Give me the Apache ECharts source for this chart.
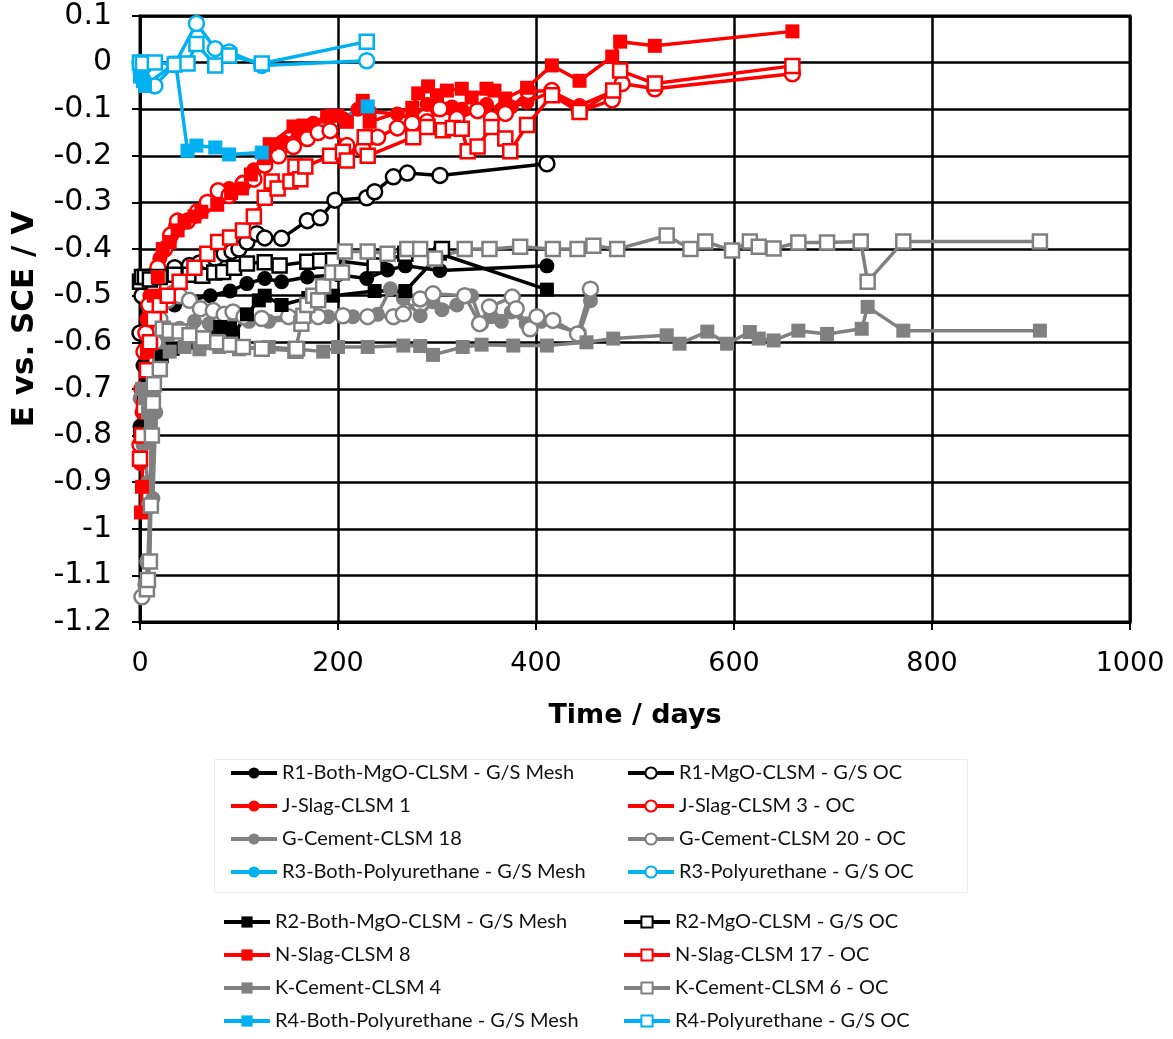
<!DOCTYPE html>
<html>
<head>
<meta charset="utf-8">
<script src="https://cdn.jsdelivr.net/npm/echarts@6/dist/echarts.min.js"></script>
<style>
html,body{margin:0;padding:0;background:#fff;}
#chart{width:1173px;height:1039px;}
</style>
</head>
<body>
<div id="chart"></div>
<script>
// ---- data: [time (days), E vs SCE (V)] ----
const xTicks = [0, 200, 400, 600, 800, 1000];
const yTicks = [0.1, 0, -0.1, -0.2, -0.3, -0.4, -0.5, -0.6, -0.7, -0.8, -0.9, -1, -1.1, -1.2];

const r1BothMesh = [[0,-0.78],[3,-0.65],[6,-0.58],[10,-0.55],[20,-0.53],[35,-0.52],[50,-0.51],[71,-0.5],[91,-0.49],[108,-0.474],[126,-0.463],[143,-0.47],[169,-0.46],[200,-0.455],[229,-0.463],[250,-0.445],[268,-0.436],[303,-0.446],[411,-0.436]];
const r1OC = [[0,-0.58],[2,-0.5],[5,-0.47],[10,-0.46],[20,-0.45],[35,-0.44],[50,-0.435],[60,-0.43],[68,-0.427],[76,-0.42],[85,-0.41],[93,-0.405],[100,-0.4],[108,-0.385],[118,-0.367],[126,-0.376],[143,-0.377],[169,-0.339],[182,-0.333],[197,-0.295],[229,-0.29],[237,-0.277],[256,-0.245],[270,-0.237],[303,-0.242],[411,-0.217]];
const jSlag1 = [[0,-0.86],[2,-0.75],[4,-0.62],[7,-0.55],[10,-0.5],[15,-0.46],[20,-0.42],[25,-0.4],[30,-0.38],[36,-0.35],[42,-0.345],[48,-0.34],[55,-0.33],[65,-0.31],[79,-0.275],[90,-0.27],[104,-0.256],[115,-0.23],[126,-0.21],[135,-0.19],[145,-0.17],[160,-0.15],[175,-0.13],[190,-0.115],[205,-0.12],[220,-0.1],[232,-0.105],[260,-0.11],[275,-0.12],[290,-0.09],[300,-0.1],[315,-0.095],[325,-0.1],[340,-0.1],[350,-0.09],[365,-0.1],[375,-0.095],[391,-0.085],[416,-0.062],[444,-0.092],[477,-0.062]];
const jSlag3OC = [[0,-0.82],[2,-0.7],[4,-0.62],[6,-0.58],[9,-0.52],[13,-0.48],[18,-0.44],[25,-0.4],[31,-0.37],[38,-0.34],[48,-0.34],[58,-0.32],[68,-0.3],[79,-0.275],[90,-0.285],[104,-0.26],[115,-0.25],[126,-0.22],[140,-0.2],[155,-0.18],[169,-0.163],[180,-0.15],[192,-0.146],[209,-0.178],[225,-0.185],[240,-0.16],[260,-0.14],[275,-0.13],[290,-0.127],[303,-0.099],[320,-0.12],[341,-0.103],[355,-0.12],[369,-0.109],[392,-0.062],[416,-0.06],[444,-0.105],[477,-0.08],[487,-0.045],[520,-0.056],[659,-0.024]];
const gCement18 = [[0,-0.72],[3,-0.82],[8,-0.9],[13,-0.935],[16,-0.75],[20,-0.65],[28,-0.6],[40,-0.57],[55,-0.555],[70,-0.56],[90,-0.55],[110,-0.555],[130,-0.555],[160,-0.55],[190,-0.545],[215,-0.545],[240,-0.54],[253,-0.485],[266,-0.506],[283,-0.543],[296,-0.513],[305,-0.53],[320,-0.52],[335,-0.5],[345,-0.56],[355,-0.545],[365,-0.555],[375,-0.535],[390,-0.56],[405,-0.555],[444,-0.58],[455,-0.511]];
const gCement20OC = [[2,-1.146],[6,-1.12],[8,-1.07],[10,-0.95],[12,-0.7],[15,-0.6],[20,-0.55],[28,-0.51],[33,-0.495],[40,-0.5],[50,-0.51],[61,-0.528],[74,-0.532],[85,-0.54],[94,-0.535],[105,-0.545],[123,-0.549],[150,-0.545],[180,-0.545],[205,-0.543],[230,-0.545],[256,-0.545],[266,-0.539],[283,-0.507],[296,-0.496],[328,-0.5],[343,-0.56],[353,-0.524],[376,-0.503],[380,-0.528],[394,-0.571],[401,-0.545],[417,-0.553],[442,-0.582],[455,-0.486]];
const r3BothMesh = [[0,-0.02],[3,-0.035],[6,-0.045]];
const r3OC = [[0,0],[3,-0.01],[15,-0.05],[35,-0.004],[57,0.084],[76,0.03],[90,0.023],[123,-0.006],[229,0.004]];
const r2BothMesh = [[0,-0.79],[4,-0.72],[8,-0.68],[14,-0.66],[22,-0.63],[33,-0.614],[50,-0.6],[65,-0.59],[81,-0.567],[91,-0.57],[94,-0.585],[108,-0.54],[120,-0.51],[126,-0.5],[143,-0.52],[170,-0.505],[195,-0.5],[237,-0.49],[268,-0.49],[303,-0.41],[411,-0.487]];
const r2OC = [[0,-0.47],[2,-0.46],[5,-0.46],[10,-0.465],[20,-0.46],[35,-0.455],[50,-0.455],[63,-0.457],[75,-0.45],[84,-0.449],[95,-0.44],[108,-0.431],[126,-0.428],[141,-0.435],[169,-0.427],[182,-0.425],[195,-0.424],[237,-0.435],[268,-0.41],[305,-0.4]];
const nSlag8 = [[1,-0.965],[2,-0.91],[4,-0.75],[7,-0.62],[10,-0.55],[14,-0.5],[18,-0.46],[23,-0.4],[30,-0.385],[38,-0.36],[45,-0.34],[55,-0.33],[62,-0.32],[78,-0.305],[92,-0.28],[103,-0.27],[112,-0.24],[126,-0.205],[131,-0.175],[155,-0.137],[165,-0.135],[189,-0.116],[199,-0.114],[209,-0.127],[225,-0.082],[232,-0.127],[275,-0.097],[281,-0.066],[291,-0.051],[300,-0.07],[310,-0.06],[325,-0.056],[335,-0.075],[350,-0.056],[358,-0.06],[369,-0.077],[391,-0.054],[416,-0.006],[444,-0.039],[477,0.013],[485,0.045],[520,0.036],[659,0.067]];
const nSlag17OC = [[0,-0.85],[2,-0.8],[4,-0.74],[7,-0.66],[10,-0.6],[14,-0.55],[20,-0.52],[28,-0.5],[40,-0.47],[55,-0.44],[68,-0.41],[79,-0.385],[91,-0.375],[104,-0.36],[115,-0.33],[126,-0.29],[133,-0.255],[139,-0.27],[152,-0.255],[157,-0.223],[162,-0.25],[167,-0.223],[192,-0.2],[205,-0.191],[209,-0.21],[227,-0.16],[230,-0.2],[276,-0.16],[290,-0.138],[306,-0.145],[316,-0.14],[325,-0.142],[331,-0.19],[341,-0.18],[355,-0.138],[369,-0.163],[374,-0.19],[391,-0.134],[416,-0.07],[444,-0.106],[478,-0.06],[485,-0.017],[520,-0.045],[659,-0.007]];
const kCement4 = [[2,-0.7],[5,-0.72],[8,-0.75],[11,-0.78],[14,-0.72],[20,-0.66],[30,-0.62],[45,-0.61],[60,-0.615],[80,-0.61],[100,-0.615],[130,-0.61],[160,-0.615],[185,-0.62],[200,-0.61],[230,-0.61],[266,-0.607],[283,-0.608],[296,-0.627],[326,-0.61],[345,-0.605],[377,-0.607],[411,-0.607],[451,-0.6],[478,-0.592],[532,-0.585],[545,-0.603],[573,-0.577],[593,-0.603],[616,-0.578],[625,-0.592],[640,-0.596],[665,-0.575],[694,-0.582],[729,-0.571],[735,-0.524],[771,-0.575],[909,-0.575]];
const kCement6OC = [[7,-1.13],[8,-1.11],[10,-1.07],[11,-0.95],[12,-0.8],[13,-0.73],[14,-0.69],[20,-0.657],[23,-0.571],[30,-0.575],[40,-0.577],[50,-0.585],[64,-0.592],[78,-0.6],[91,-0.605],[104,-0.61],[123,-0.614],[157,-0.618],[158,-0.614],[163,-0.56],[165,-0.543],[169,-0.52],[175,-0.5],[180,-0.51],[185,-0.48],[194,-0.45],[204,-0.45],[207,-0.405],[230,-0.405],[250,-0.41],[270,-0.4],[283,-0.4],[298,-0.42],[328,-0.4],[353,-0.4],[384,-0.395],[417,-0.4],[442,-0.4],[458,-0.393],[482,-0.4],[532,-0.371],[556,-0.4],[571,-0.384],[598,-0.403],[616,-0.384],[625,-0.395],[640,-0.399],[665,-0.386],[694,-0.386],[728,-0.384],[735,-0.47],[771,-0.384],[909,-0.384]];
const r4BothMesh = [[0,-0.03],[3,-0.04],[5,-0.05],[36,0.0],[48,-0.189],[57,-0.178],[76,-0.182],[90,-0.197],[123,-0.193],[230,-0.094]];
const r4OC = [[0,0],[3,-0.002],[15,0],[35,-0.004],[48,-0.002],[57,0.04],[76,-0.006],[90,0.015],[123,-0.002],[229,0.045]];

const BLACK = '#000000', RED = '#ff0000', GREY = '#808080', BLUE = '#00b0f0';

function mk(name, data, color, symbol, hollow) {
  return {
    name: name, type: 'line', data: data,
    symbol: symbol, symbolSize: symbol === 'rect' ? 14 : 15,
    showSymbol: true,
    lineStyle: { color: color, width: 3.5 },
    itemStyle: hollow ? { color: '#ffffff', borderColor: color, borderWidth: 2.5 } : { color: color, borderColor: color, borderWidth: 0 },
    emphasis: { disabled: true },
    animation: false
  };
}

const series = [
  mk('R1-Both-MgO-CLSM - G/S Mesh', r1BothMesh, BLACK, 'circle', false),
  mk('R1-MgO-CLSM - G/S OC', r1OC, BLACK, 'circle', true),
  mk('J-Slag-CLSM 1', jSlag1, RED, 'circle', false),
  mk('J-Slag-CLSM 3 - OC', jSlag3OC, RED, 'circle', true),
  mk('G-Cement-CLSM 18', gCement18, GREY, 'circle', false),
  mk('G-Cement-CLSM 20 - OC', gCement20OC, GREY, 'circle', true),
  mk('R3-Both-Polyurethane - G/S Mesh', r3BothMesh, BLUE, 'circle', false),
  mk('R3-Polyurethane - G/S OC', r3OC, BLUE, 'circle', true),
  mk('R2-Both-MgO-CLSM - G/S Mesh', r2BothMesh, BLACK, 'rect', false),
  mk('R2-MgO-CLSM - G/S OC', r2OC, BLACK, 'rect', true),
  mk('N-Slag-CLSM 8', nSlag8, RED, 'rect', false),
  mk('N-Slag-CLSM 17 - OC', nSlag17OC, RED, 'rect', true),
  mk('K-Cement-CLSM 4', kCement4, GREY, 'rect', false),
  mk('K-Cement-CLSM 6 - OC', kCement6OC, GREY, 'rect', true),
  mk('R4-Both-Polyurethane - G/S Mesh', r4BothMesh, BLUE, 'rect', false),
  mk('R4-Polyurethane - G/S OC', r4OC, BLUE, 'rect', true)
];

const LFONT = { fontFamily: 'Lato', fontSize: 20, color: '#111' };
function leg(names, left, top) {
  return {
    show: true, orient: 'vertical', left: left, top: top,
    itemWidth: 46, itemHeight: 14, itemGap: 13, padding: 0,
    lineStyle: { width: 4 },
    textStyle: LFONT, data: names, selectedMode: false
  };
}

const chart = echarts.init(document.getElementById('chart'), null, { renderer: 'canvas' });
chart.setOption({
  animation: false,
  backgroundColor: '#ffffff',
  graphic: [{
    type: 'rect', left: 212, top: 757, silent: true, z: -1,
    shape: { width: 753, height: 133 },
    style: { fill: 'none', stroke: '#ececec', lineWidth: 1 }
  }],
  grid: { left: 140, top: 16, right: 43, bottom: 417, containLabel: false, outerBoundsMode: 'none',
    show: true, borderColor: '#000', borderWidth: 3, backgroundColor: 'transparent' },
  xAxis: {
    type: 'value', min: xTicks[0], max: xTicks[xTicks.length - 1], interval: 200,
    name: 'Time / days', nameLocation: 'middle', nameGap: 80,
    nameTextStyle: { fontFamily: 'DejaVu Sans', fontWeight: 'bold', fontSize: 27, color: '#000' },
    axisLine: { show: true, onZero: false, lineStyle: { color: '#000', width: 3 } },
    axisTick: { show: true, inside: false, length: 8, lineStyle: { color: '#000', width: 2 } },
    axisLabel: { fontFamily: 'DejaVu Sans', fontSize: 27, color: '#000', margin: 28,
      formatter: function (v) { return String(v); } },
    splitLine: { show: true, lineStyle: { color: '#000', width: 2.5 } }
  },
  yAxis: {
    type: 'value', min: yTicks[yTicks.length - 1], max: yTicks[0], interval: 0.1,
    name: 'E vs. SCE / V', nameLocation: 'middle', nameGap: 100, nameRotate: 90,
    nameTextStyle: { fontFamily: 'DejaVu Sans', fontWeight: 'bold', fontSize: 31, color: '#000' },
    axisLine: { show: true, onZero: false, lineStyle: { color: '#000', width: 3 } },
    axisTick: { show: true, inside: false, length: 8, lineStyle: { color: '#000', width: 2 } },
    axisLabel: { fontFamily: 'DejaVu Sans', fontSize: 30, color: '#000', margin: 28,
      formatter: function (v) { return String(+v.toFixed(1)); } },
    splitLine: { show: true, lineStyle: { color: '#000', width: 2.5 } }
  },
  legend: [
    leg(['R1-Both-MgO-CLSM - G/S Mesh', 'J-Slag-CLSM 1', 'G-Cement-CLSM 18', 'R3-Both-Polyurethane - G/S Mesh'], 229, 763),
    leg(['R1-MgO-CLSM - G/S OC', 'J-Slag-CLSM 3 - OC', 'G-Cement-CLSM 20 - OC', 'R3-Polyurethane - G/S OC'], 626, 763),
    leg(['R2-Both-MgO-CLSM - G/S Mesh', 'N-Slag-CLSM 8', 'K-Cement-CLSM 4', 'R4-Both-Polyurethane - G/S Mesh'], 222, 912),
    leg(['R2-MgO-CLSM - G/S OC', 'N-Slag-CLSM 17 - OC', 'K-Cement-CLSM 6 - OC', 'R4-Polyurethane - G/S OC'], 622, 912)
  ],
  series: series
});
</script>
</body>
</html>
